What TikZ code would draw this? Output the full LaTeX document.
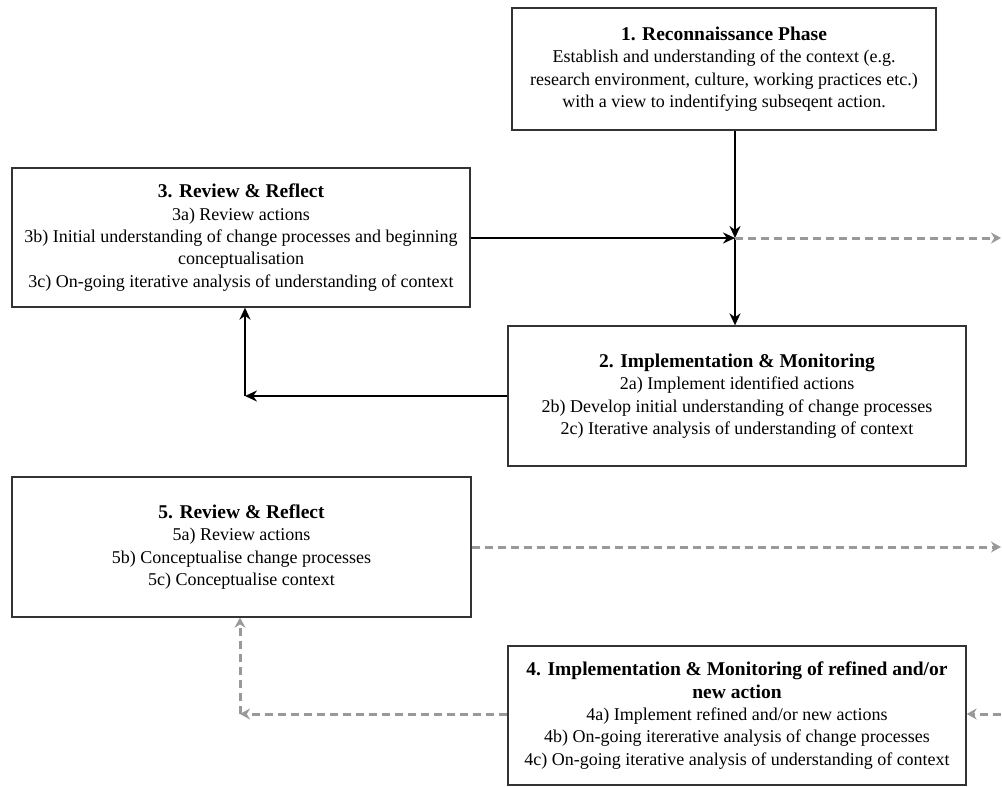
\documentclass[tikz,border=0pt]{standalone}
\usepackage{fontspec}
\setmainfont{Liberation Serif}
\newfontfamily\tnr{Liberation Serif}
\usetikzlibrary{arrows.meta}
\begin{document}
\begin{tikzpicture}[x=1pt,y=-1pt,
  box/.style={draw=black!80, line width=1.3pt, align=center, inner sep=0pt,
    font=\tnr\fontsize{18}{22.4}\selectfont},
  solidarrow/.style={line width=2.8pt, black, -{Stealth[length=12pt,width=11pt]}},
  dasharrow/.style={line width=3pt, black!40, dash pattern=on 8pt off 5pt, -{Stealth[length=10pt,width=11pt]}}
]
\useasboundingbox (0,0) rectangle (1002,787);
\newcommand{\ttltext}[1]{{\tnr\fontsize{19.5}{22.4}\selectfont\bfseries #1}}

\node[box, minimum width=424pt, minimum height=122pt] (b1) at (724,69)
  {\ttltext{1. Reconnaissance Phase}\\
   Establish and understanding of the context (e.g.\\
   research environment, culture, working practices etc.)\\
   with a view to indentifying subseqent action.};

\node[box, minimum width=458pt, minimum height=139pt] (b3) at (241,237.5)
  {\ttltext{3. Review \& Reflect}\\
   3a) Review actions\\
   3b) Initial understanding of change processes and beginning\\
   conceptualisation\\
   3c) On-going iterative analysis of understanding of context};

\node[box, minimum width=458pt, minimum height=140pt] (b2) at (737,396)
  {\ttltext{2. Implementation \& Monitoring}\\
   2a) Implement identified actions\\
   2b) Develop initial understanding of change processes\\
   2c) Iterative analysis of understanding of context};

\node[box, minimum width=459pt, minimum height=140pt] (b5) at (241.5,547)
  {\ttltext{5. Review \& Reflect}\\
   5a) Review actions\\
   5b) Conceptualise change processes\\
   5c) Conceptualise context};

\node[box, minimum width=458pt, minimum height=139pt] (b4) at (737,715.5)
  {\ttltext{4. Implementation \& Monitoring of refined and/or}\\
   \ttltext{new action}\\
   4a) Implement refined and/or new actions\\
   4b) On-going itererative analysis of change processes\\
   4c) On-going iterative analysis of understanding of context};

\coordinate (j) at (735,238);
\coordinate (r1) at (1001,238);
\coordinate (c1) at (245,396);
\coordinate (r2) at (1001,547);
\coordinate (r3) at (1001,714);
\coordinate (c2) at (240,714);

\draw[solidarrow] (b1.south -| j) -- (j);
\draw[solidarrow] (b3.east |- j) -- (j);
\draw[solidarrow] (j) -- (b2.north -| j);
\draw[dasharrow] (j) -- (r1);
\draw[solidarrow] (b2.west |- c1) -- (c1);
\draw[solidarrow] (c1) -- (b3.south -| c1);

\draw[dasharrow] (b5.east |- r2) -- (r2);
\draw[dasharrow] (r3) -- (b4.east |- r3);
\draw[dasharrow] (b4.west |- c2) -- (c2);
\draw[dasharrow] (c2) -- (b5.south -| c2);
\end{tikzpicture}
\end{document}
